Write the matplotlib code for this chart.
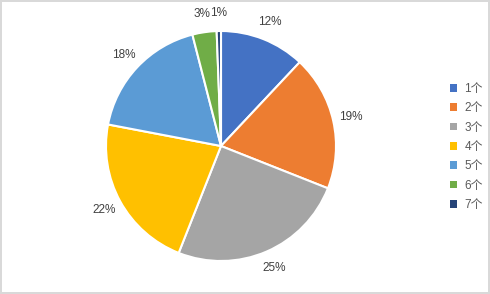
import matplotlib.pyplot as plt
from matplotlib.patches import Patch

labels = ["1个", "2个", "3个", "4个", "5个", "6个", "7个"]
values = [12, 19, 25, 22, 18, 3.4, 0.6]
colors = ["#4472C4", "#ED7D31", "#A5A5A5", "#FFC000", "#5B9BD5", "#70AD47", "#264478"]

plt.rcParams['font.family'] = ['Liberation Sans', 'Noto Sans CJK SC', 'DejaVu Sans']

W, H = 490, 294
fig = plt.figure(figsize=(W / 100, H / 100), dpi=100)
fig.patch.set_edgecolor("#D9D9D9")
fig.patch.set_linewidth(1.5)

cx, cy, r = 221, 294 - 146, 115
lim = 1.05
half = r * lim
ax = fig.add_axes([(cx - half) / W, (cy - half) / H, 2 * half / W, 2 * half / H])

wedges, texts, autotexts = ax.pie(
    values, colors=colors, startangle=90, counterclock=False,
    autopct=lambda p: "%.0f%%" % p, pctdistance=1.16,
    wedgeprops=dict(edgecolor="white", linewidth=1.5),
    textprops=dict(color="#404040", fontsize=8.5))
ax.set_xlim(-lim, lim)
ax.set_ylim(-lim, lim)
ax.set_aspect("equal")

handles = [Patch(facecolor=c, edgecolor="none") for c in colors]
fig.legend(handles, labels, loc="center left", bbox_to_anchor=(0.897, 0.5),
           frameon=False, fontsize=8.5, labelcolor="#595959",
           handlelength=0.6, handleheight=0.6, handletextpad=0.6,
           labelspacing=0.62)

fig.savefig("out.png", dpi=100)
